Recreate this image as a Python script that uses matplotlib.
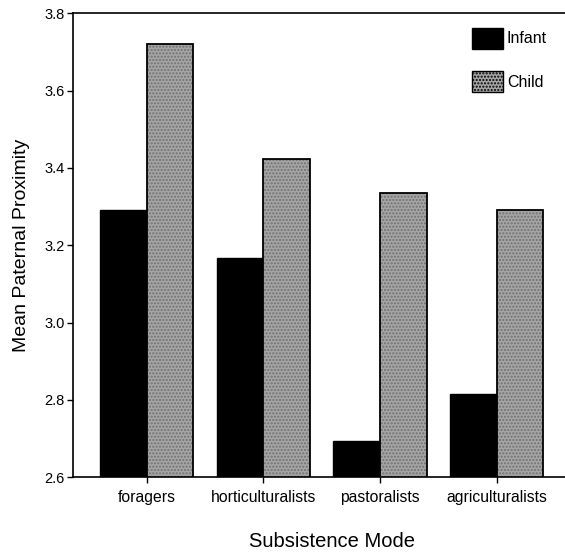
import matplotlib
matplotlib.use('Agg')
import matplotlib.pyplot as plt
import numpy as np
from matplotlib.patches import Patch

plt.rcParams['font.family'] = ['Liberation Sans', 'DejaVu Sans']

modes = ['foragers', 'horticulturalists', 'pastoralists', 'agriculturalists']
infant = [3.292, 3.168, 2.693, 2.814]
child = [3.722, 3.424, 3.336, 3.290]

x = np.arange(len(modes))
w = 0.40
child_grey = '#a5a5a5'

fig = plt.figure(figsize=(5.65, 5.57), dpi=100)
ax = fig.add_axes([0.1287, 0.1436, 0.8713, 0.8322])

ax.bar(x - w / 2, infant, w, color='black', edgecolor='black', linewidth=1)
# child bars: stippled grey fill, then black outline on top
ax.bar(x + w / 2, child, w, color=child_grey, edgecolor='#707070', hatch='.....', linewidth=0)
ax.bar(x + w / 2, child, w, facecolor='none', edgecolor='black', linewidth=1.3)

ax.set_ylim(2.6, 3.8)
ax.set_xlim(-0.634, 3.585)
ax.set_yticks([2.6, 2.8, 3.0, 3.2, 3.4, 3.6, 3.8])
ax.set_yticklabels(['2.6', '2.8', '3.0', '3.2', '3.4', '3.6', '3.8'])
ax.set_xticks(x)
ax.set_xticklabels(modes)
ax.tick_params(axis='y', labelsize=10.5, length=4, width=1, direction='out', pad=2)
ax.tick_params(axis='x', labelsize=11.3, length=4, width=1, direction='out', pad=5)

ax.spines['right'].set_visible(False)
for s in ['left', 'bottom', 'top']:
    ax.spines[s].set_linewidth(1.2)

ax.set_xlabel('Subsistence Mode', fontsize=14.5)
ax.xaxis.set_label_coords(0.527, -0.118)
ax.set_ylabel('Mean Paternal Proximity', fontsize=14)
ax.yaxis.set_label_coords(-0.087, 0.5)

handles = [Patch(facecolor='black', edgecolor='black'),
           Patch(facecolor=child_grey, edgecolor='black', hatch='.....')]
ax.legend(handles, ['Infant', 'Child'], loc='upper left', bbox_to_anchor=(0.811, 0.969),
          frameon=False, fontsize=11.5, handlelength=1.94, handleheight=1.62,
          handletextpad=0.25, labelspacing=1.4, borderpad=0, borderaxespad=0)

fig.savefig('out.png', dpi=100)
